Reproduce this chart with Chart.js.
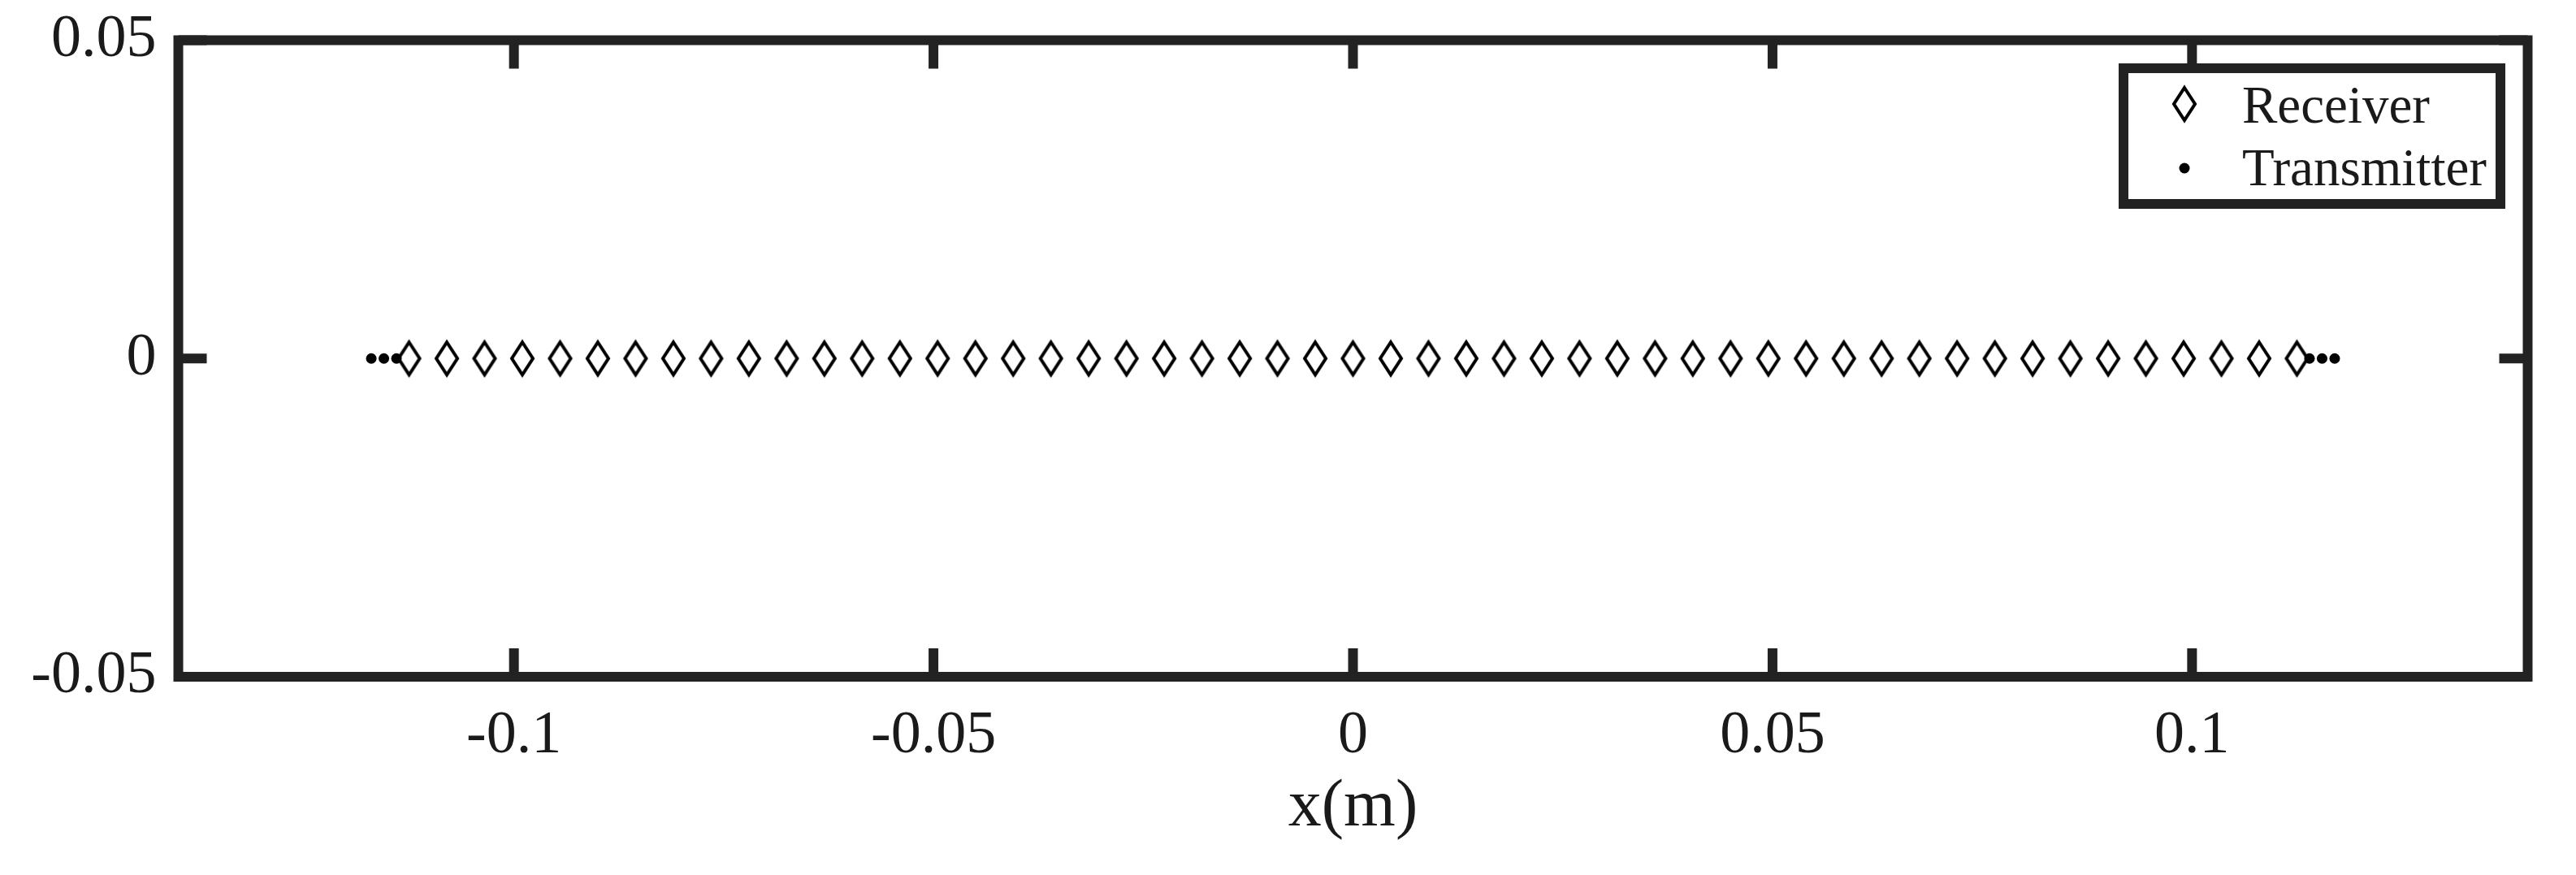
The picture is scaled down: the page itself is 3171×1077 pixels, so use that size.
<!DOCTYPE html>
<html>
<head>
<meta charset="utf-8">
<title>Receiver / Transmitter positions</title>
<script src="https://cdn.jsdelivr.net/npm/chart.js@4.4.1/dist/chart.umd.min.js"></script>
<style>
  html, body { margin: 0; padding: 0; background: #fff; }
  #wrap { width: 3171px; height: 1077px; }
</style>
</head>
<body>
<div id="wrap"><canvas id="arrayChart" width="3171" height="1077"></canvas></div>
<script>
// element positions along x (m), all on y = 0
const receiverX = [
  -0.1125, -0.108, -0.1035, -0.099, -0.0945, -0.09, -0.0855, -0.081, -0.0765, -0.072,
  -0.0675, -0.063, -0.0585, -0.054, -0.0495, -0.045, -0.0405, -0.036, -0.0315, -0.027,
  -0.0225, -0.018, -0.0135, -0.009, -0.0045, 0, 0.0045, 0.009, 0.0135, 0.018,
  0.0225, 0.027, 0.0315, 0.036, 0.0405, 0.045, 0.0495, 0.054, 0.0585, 0.063,
  0.0675, 0.072, 0.0765, 0.081, 0.0855, 0.09, 0.0945, 0.099, 0.1035, 0.108,
  0.1125,
];
const receiverY = [
  0, 0, 0, 0, 0, 0, 0, 0, 0, 0,
  0, 0, 0, 0, 0, 0, 0, 0, 0, 0,
  0, 0, 0, 0, 0, 0, 0, 0, 0, 0,
  0, 0, 0, 0, 0, 0, 0, 0, 0, 0,
  0, 0, 0, 0, 0, 0, 0, 0, 0, 0,
  0,
];
const transmitterX = [-0.117, -0.1155, -0.114, 0.114, 0.1155, 0.117];
const transmitterY = [0, 0, 0, 0, 0, 0];

const xTicks = [-0.1, -0.05, 0, 0.05, 0.1];
const xTickLabels = ['-0.1', '-0.05', '0', '0.05', '0.1'];
const yTicks = [-0.05, 0, 0.05];
const yTickLabels = ['-0.05', '0', '0.05'];
const seriesNames = ['Receiver', 'Transmitter'];
const xTitle = 'x(m)';

const INK = '#222222';
const TEXT = '#1a1a1a';
const SERIF = '"Liberation Serif", "Times New Roman", serif';

function toPoints(xs, ys) {
  return xs.map((x, i) => ({ x, y: ys[i] }));
}

// diamond marker, taller than wide like the matlab one
function makeDiamond() {
  const c = document.createElement('canvas');
  c.width = 40;
  c.height = 56;
  const g = c.getContext('2d');
  g.strokeStyle = '#000';
  g.lineWidth = 4;
  g.lineJoin = 'miter';
  g.beginPath();
  g.moveTo(20, 8);
  g.lineTo(33, 28);
  g.lineTo(20, 48);
  g.lineTo(7, 28);
  g.closePath();
  g.stroke();
  return c;
}

const diamond = makeDiamond();

// box around the plot + inward ticks on all four sides
const frameAndTicks = {
  id: 'frameAndTicks',
  afterDatasetsDraw(chart) {
    const { ctx, chartArea: a, scales } = chart;
    const tick = 35;
    ctx.save();
    ctx.strokeStyle = INK;
    ctx.lineWidth = 12;
    ctx.lineCap = 'butt';
    ctx.beginPath();
    xTicks.forEach((v) => {
      const px = scales.x.getPixelForValue(v);
      ctx.moveTo(px, a.bottom);
      ctx.lineTo(px, a.bottom - tick);
      ctx.moveTo(px, a.top);
      ctx.lineTo(px, a.top + tick);
    });
    yTicks.forEach((v) => {
      const py = scales.y.getPixelForValue(v);
      ctx.moveTo(a.left, py);
      ctx.lineTo(a.left + tick, py);
      ctx.moveTo(a.right, py);
      ctx.lineTo(a.right - tick, py);
    });
    ctx.stroke();
    ctx.lineJoin = 'miter';
    ctx.strokeRect(a.left, a.top, a.right - a.left, a.bottom - a.top);
    ctx.restore();
  },
};

// legend in a thick box, top right inside the axes
const boxLegend = {
  id: 'boxLegend',
  afterDraw(chart) {
    const { ctx, chartArea: a } = chart;
    const w = 464;
    const h = 167;
    const x0 = a.right - 33.5 - w;
    const y0 = a.top + 34.5;
    ctx.save();
    ctx.fillStyle = '#fff';
    ctx.fillRect(x0, y0, w, h);
    ctx.strokeStyle = INK;
    ctx.lineWidth = 12;
    ctx.strokeRect(x0, y0, w, h);

    ctx.drawImage(diamond, x0 + 75 - diamond.width / 2, y0 + 44 - diamond.height / 2);
    ctx.fillStyle = '#000';
    ctx.beginPath();
    ctx.arc(x0 + 75, y0 + 123, 6.5, 0, Math.PI * 2);
    ctx.fill();

    ctx.fillStyle = TEXT;
    ctx.font = `65px ${SERIF}`;
    ctx.textAlign = 'left';
    ctx.textBaseline = 'alphabetic';
    ctx.fillText(seriesNames[0], x0 + 146, y0 + 67);
    ctx.fillText(seriesNames[1], x0 + 146, y0 + 144);
    ctx.restore();
  },
};

new Chart(document.getElementById('arrayChart'), {
  type: 'scatter',
  data: {
    datasets: [
      {
        label: seriesNames[0],
        data: toPoints(receiverX, receiverY),
        pointStyle: diamond,
        pointRadius: 10,
        borderWidth: 0,
        order: 1,
      },
      {
        label: seriesNames[1],
        data: toPoints(transmitterX, transmitterY),
        pointStyle: 'circle',
        pointRadius: 6.5,
        backgroundColor: '#000',
        borderWidth: 0,
        order: 0,
      },
    ],
  },
  options: {
    responsive: false,
    devicePixelRatio: 1,
    animation: false,
    events: [],
    layout: { padding: { left: 0, top: 49.5, right: 59.5, bottom: 0 } },
    plugins: {
      legend: { display: false },
      tooltip: { enabled: false },
    },
    scales: {
      x: {
        type: 'linear',
        position: 'bottom',
        min: -0.14,
        max: 0.14,
        afterBuildTicks: (s) => {
          s.ticks = xTicks.map((v) => ({ value: v }));
        },
        afterFit: (s) => {
          s.height = 244;
        },
        grid: { display: false },
        border: { display: false },
        ticks: {
          padding: 29,
          color: TEXT,
          autoSkip: false,
          maxRotation: 0,
          font: { family: SERIF, size: 74, lineHeight: 1 },
          callback: (v, i) => xTickLabels[i],
        },
        title: {
          display: true,
          text: xTitle,
          color: TEXT,
          font: { family: SERIF, size: 82, lineHeight: 1 },
          padding: { top: 0, bottom: 42 },
        },
      },
      y: {
        type: 'linear',
        position: 'left',
        min: -0.05,
        max: 0.05,
        afterBuildTicks: (s) => {
          s.ticks = yTicks.map((v) => ({ value: v }));
        },
        afterFit: (s) => {
          s.width = 219.5;
          // labels may stick out above/below, don't let them push the plot area
          s.paddingTop = 0;
          s.paddingBottom = 0;
        },
        grid: { display: false },
        border: { display: false },
        ticks: {
          padding: 19,
          color: TEXT,
          autoSkip: false,
          font: { family: SERIF, size: 74, lineHeight: 1 },
          callback: (v, i) => yTickLabels[i],
        },
      },
    },
  },
  plugins: [frameAndTicks, boxLegend],
});
</script>
</body>
</html>
